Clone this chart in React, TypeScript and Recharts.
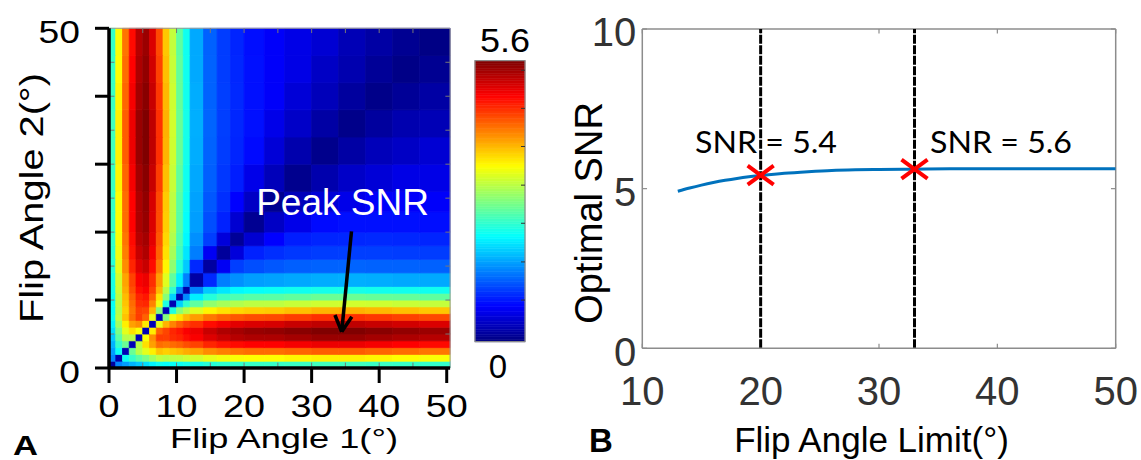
import React from 'react'
import { ComposedChart, XAxis, YAxis, ReferenceArea, ReferenceLine, Line, Scatter } from 'recharts'

const FONT = '"Liberation Sans", Arial, sans-serif'

// ---- panel A: SNR map, cell edges in degrees (finer near the axes) ----
const X_EDGES = [0, 1, 2, 3, 4, 5, 6, 7, 8, 9, 10, 11, 12, 14, 16, 18, 20, 23, 26, 30, 34, 38, 42, 46, 50.5]
const Y_EDGES = [0, 1, 2, 3, 4, 5, 6, 7, 8, 9, 10, 11, 12, 14, 16, 18, 20, 23, 26, 30, 34, 38, 42, 46, 50]

// rows go bottom (Flip Angle 2 = 0) to top, columns left to right
const SNR_MAP: number[][] = [
  [0.15, 1.43, 1.56, 1.68, 1.8, 1.92, 2.04, 2.16, 2.12, 2.14, 2.16, 2.21, 2.23, 2.31, 2.35, 2.38, 2.4, 2.4, 2.42, 2.45, 2.45, 2.42, 2.4, 2.38],
  [1.43, 0.25, 2.16, 2.39, 2.6, 2.77, 2.98, 3.15, 3.1, 3.13, 3.15, 3.22, 3.26, 3.37, 3.43, 3.47, 3.5, 3.5, 3.54, 3.57, 3.57, 3.54, 3.5, 3.47],
  [1.56, 2.16, 0.3, 2.68, 3.1, 3.35, 3.58, 3.83, 3.76, 3.82, 3.87, 3.95, 4.0, 4.13, 4.21, 4.26, 4.3, 4.3, 4.34, 4.39, 4.39, 4.34, 4.3, 4.26],
  [1.68, 2.39, 2.68, 0.3, 3.12, 3.67, 4.02, 4.3, 4.25, 4.31, 4.37, 4.47, 4.54, 4.7, 4.8, 4.85, 4.9, 4.9, 4.95, 5.0, 5.0, 4.95, 4.9, 4.85],
  [1.8, 2.6, 3.1, 3.12, 0.3, 3.47, 4.12, 4.57, 4.56, 4.66, 4.71, 4.83, 4.93, 5.08, 5.21, 5.3, 5.35, 5.35, 5.4, 5.46, 5.46, 5.4, 5.35, 5.3],
  [1.92, 2.77, 3.35, 3.67, 3.47, 0.3, 3.6, 4.36, 4.52, 4.69, 4.78, 4.92, 5.0, 5.2, 5.34, 5.4, 5.47, 5.5, 5.55, 5.6, 5.6, 5.55, 5.5, 5.45],
  [2.04, 2.98, 3.58, 4.02, 4.12, 3.6, 0.3, 3.38, 3.91, 4.18, 4.38, 4.55, 4.65, 4.84, 4.96, 5.05, 5.1, 5.12, 5.2, 5.25, 5.25, 5.2, 5.15, 5.1],
  [2.16, 3.15, 3.83, 4.3, 4.57, 4.36, 3.38, 0.3, 2.81, 3.41, 3.65, 3.89, 4.04, 4.24, 4.36, 4.42, 4.48, 4.5, 4.57, 4.64, 4.64, 4.6, 4.55, 4.5],
  [2.12, 3.1, 3.76, 4.25, 4.56, 4.52, 3.91, 2.81, 0.3, 2.27, 2.84, 3.1, 3.33, 3.55, 3.66, 3.72, 3.77, 3.79, 3.85, 3.91, 3.93, 3.89, 3.85, 3.81],
  [2.14, 3.13, 3.82, 4.31, 4.66, 4.69, 4.18, 3.41, 2.27, 0.28, 1.85, 2.35, 2.62, 2.89, 3.01, 3.07, 3.13, 3.14, 3.19, 3.23, 3.25, 3.23, 3.2, 3.17],
  [2.16, 3.15, 3.87, 4.37, 4.71, 4.78, 4.38, 3.65, 2.84, 1.85, 0.25, 1.46, 2.02, 2.29, 2.45, 2.52, 2.58, 2.59, 2.63, 2.68, 2.68, 2.66, 2.65, 2.62],
  [2.21, 3.22, 3.95, 4.47, 4.83, 4.92, 4.55, 3.89, 3.1, 2.35, 1.46, 0.22, 1.41, 1.81, 1.97, 2.07, 2.12, 2.15, 2.18, 2.21, 2.22, 2.2, 2.19, 2.18],
  [2.23, 3.26, 4.0, 4.54, 4.93, 5.0, 4.65, 4.04, 3.33, 2.62, 2.02, 1.41, 0.2, 0.92, 1.39, 1.49, 1.57, 1.59, 1.62, 1.65, 1.66, 1.65, 1.63, 1.63],
  [2.31, 3.37, 4.13, 4.7, 5.08, 5.2, 4.84, 4.24, 3.55, 2.89, 2.29, 1.81, 0.92, 0.18, 0.64, 1.04, 1.13, 1.18, 1.22, 1.24, 1.25, 1.24, 1.24, 1.23],
  [2.35, 3.43, 4.21, 4.8, 5.21, 5.34, 4.96, 4.36, 3.66, 3.01, 2.45, 1.97, 1.39, 0.64, 0.15, 0.5, 0.88, 0.95, 1.0, 1.03, 1.04, 1.04, 1.03, 1.03],
  [2.38, 3.47, 4.26, 4.85, 5.3, 5.4, 5.05, 4.42, 3.72, 3.07, 2.52, 2.07, 1.49, 1.04, 0.5, 0.13, 0.45, 0.7, 0.86, 0.9, 0.91, 0.92, 0.91, 0.9],
  [2.4, 3.5, 4.3, 4.9, 5.35, 5.47, 5.1, 4.48, 3.77, 3.13, 2.58, 2.12, 1.57, 1.13, 0.88, 0.45, 0.1, 0.38, 0.58, 0.75, 0.78, 0.78, 0.78, 0.77],
  [2.4, 3.5, 4.3, 4.9, 5.35, 5.5, 5.12, 4.5, 3.79, 3.14, 2.59, 2.15, 1.59, 1.18, 0.95, 0.7, 0.38, 0.09, 0.32, 0.48, 0.58, 0.67, 0.67, 0.67],
  [2.42, 3.54, 4.34, 4.95, 5.4, 5.55, 5.2, 4.57, 3.85, 3.19, 2.63, 2.18, 1.62, 1.22, 1.0, 0.86, 0.58, 0.32, 0.08, 0.25, 0.4, 0.48, 0.56, 0.57],
  [2.45, 3.57, 4.39, 5.0, 5.46, 5.6, 5.25, 4.64, 3.91, 3.23, 2.68, 2.21, 1.65, 1.24, 1.03, 0.9, 0.75, 0.48, 0.25, 0.07, 0.2, 0.32, 0.38, 0.46],
  [2.45, 3.57, 4.39, 5.0, 5.46, 5.6, 5.25, 4.64, 3.93, 3.25, 2.68, 2.22, 1.66, 1.25, 1.04, 0.91, 0.78, 0.58, 0.4, 0.2, 0.06, 0.17, 0.26, 0.3],
  [2.42, 3.54, 4.34, 4.95, 5.4, 5.55, 5.2, 4.6, 3.89, 3.23, 2.66, 2.2, 1.65, 1.24, 1.04, 0.92, 0.78, 0.67, 0.48, 0.32, 0.17, 0.05, 0.13, 0.2],
  [2.4, 3.5, 4.3, 4.9, 5.35, 5.5, 5.15, 4.55, 3.85, 3.2, 2.65, 2.19, 1.63, 1.24, 1.03, 0.91, 0.78, 0.67, 0.56, 0.38, 0.26, 0.13, 0.04, 0.1],
  [2.38, 3.47, 4.26, 4.85, 5.3, 5.45, 5.1, 4.5, 3.81, 3.17, 2.62, 2.18, 1.63, 1.23, 1.03, 0.9, 0.77, 0.67, 0.57, 0.46, 0.3, 0.2, 0.1, 0.03],
]

const A_TICKS = [0, 10, 20, 30, 40, 50]
const A_YLABELS = [0, 50]
const A_MINOR = [5, 10, 15, 20, 25, 30, 35, 40, 45]

// arrow pointing at the peak (deg, deg)
const ARROW_TAIL = { x: 35.9, y: 20.1 }
const ARROW_TIP = { x: 34.45, y: 5.34 }
const ARROW_HEAD = [{ x: 33.45, y: 7.8 }, { x: 35.95, y: 7.55 }]

// colorbar
const CBAR_MAX = 5.6
const CBAR_TICKS = [0.83, 1.59, 2.36, 3.12, 3.89, 4.65, 5.41]

// ---- panel B ----
const LIMIT = [13, 14, 15, 16, 17, 18, 19, 20, 22, 24, 26, 28, 30, 33, 36, 40, 45, 50]
const OPT_SNR = [4.92, 5.02, 5.11, 5.19, 5.26, 5.32, 5.37, 5.41, 5.48, 5.53, 5.57, 5.59, 5.6, 5.61, 5.62, 5.62, 5.62, 5.62]
const MARK_LIMIT = [20, 33]
const MARK_SNR = [5.42, 5.61]
const B_XTICKS = [10, 20, 30, 40, 50]
const B_YTICKS = [0, 5, 10]

function jet(v: number) {
  const t = Math.max(0, Math.min(1, v / CBAR_MAX))
  const f = (c: number) => Math.round(255 * Math.max(0, Math.min(1, 1.5 - Math.abs(4 * t - c))))
  return `rgb(${f(3)},${f(2)},${f(1)})`
}

const AXTick = ({ x, y, payload }: any) => (
  <g transform={`translate(${x},${y}) scale(1.22,1)`}>
    <text textAnchor="middle" dy="0.72em" fontSize={31} fontFamily={FONT} fill="#000">
      {payload.value}
    </text>
  </g>
)

const AYTick = ({ x, y, payload }: any) => {
  if (!A_YLABELS.includes(payload.value)) return <g />
  return (
    <g transform={`translate(${x},${y + 4}) scale(1.2,1)`}>
      <text textAnchor="end" dy="0.36em" fontSize={31} fontFamily={FONT} fill="#000">
        {payload.value}
      </text>
    </g>
  )
}

const BXTick = ({ x, y, payload }: any) => (
  <text x={x} y={y} textAnchor="middle" dy="0.72em" fontSize={40} fontFamily={FONT} fill="#333">
    {payload.value}
  </text>
)

const BYTick = ({ x, y, payload }: any) => (
  <text x={x} y={y + 3} textAnchor="end" dy="0.36em" fontSize={40} fontFamily={FONT} fill="#333">
    {payload.value}
  </text>
)

const RedCross = ({ cx, cy }: any) => (
  <g stroke="#ff0000" strokeWidth={4}>
    <line x1={cx - 13} y1={cy - 9.5} x2={cx + 13} y2={cy + 9.5} />
    <line x1={cx - 13} y1={cy + 9.5} x2={cx + 13} y2={cy - 9.5} />
  </g>
)

function HeatPanel() {
  return (
    <ComposedChart width={480} height={460} margin={{ top: 28.3, right: 29.9, bottom: 62, left: 49 }}>
      <XAxis
        type="number"
        dataKey="x"
        domain={[0, 50.5]}
        ticks={A_TICKS}
        allowDataOverflow
        height={30}
        axisLine={{ stroke: '#000', strokeWidth: 3.5 }}
        tickLine={{ stroke: '#000', strokeWidth: 3 }}
        tickSize={15}
        tickMargin={12}
        tick={AXTick}
        interval={0}
      />
      <YAxis
        type="number"
        dataKey="y"
        domain={[0, 50]}
        ticks={A_TICKS}
        allowDataOverflow
        width={60}
        axisLine={{ stroke: '#000', strokeWidth: 3.5 }}
        tickLine={{ stroke: '#000', strokeWidth: 3 }}
        tickSize={14}
        tickMargin={15}
        tick={AYTick}
        interval={0}
      />
      {SNR_MAP.map((row, r) =>
        row.map((v, c) => (
          <ReferenceArea
            key={`c${r}-${c}`}
            x1={X_EDGES[c]}
            x2={X_EDGES[c + 1]}
            y1={Y_EDGES[r]}
            y2={Y_EDGES[r + 1]}
            fill={jet(v)}
            fillOpacity={1}
            stroke={jet(v)}
            strokeWidth={0.8}
            ifOverflow="visible"
          />
        ))
      )}
      <ReferenceLine y={50} stroke="#9a9a9a" strokeWidth={1} />
      <ReferenceLine x={50.5} stroke="#9a9a9a" strokeWidth={1} />
      {A_MINOR.map((m) => (
        <ReferenceLine key={`mb${m}`} segment={[{ x: m, y: 0 }, { x: m, y: 0.8 }]} stroke="#777" strokeWidth={1} />
      ))}
      {A_MINOR.map((m) => (
        <ReferenceLine key={`mt${m}`} segment={[{ x: m, y: 50 }, { x: m, y: 49.3 }]} stroke="#777" strokeWidth={1} />
      ))}
      {A_MINOR.map((m) => (
        <ReferenceLine key={`ml${m}`} segment={[{ x: 0, y: m }, { x: 0.8, y: m }]} stroke="#777" strokeWidth={1} />
      ))}
      {A_MINOR.map((m) => (
        <ReferenceLine key={`mr${m}`} segment={[{ x: 50.5, y: m }, { x: 49.8, y: m }]} stroke="#777" strokeWidth={1} />
      ))}
      <ReferenceLine segment={[ARROW_TAIL, ARROW_TIP]} stroke="#000" strokeWidth={3.5} />
      {ARROW_HEAD.map((p, i) => (
        <ReferenceLine key={`ah${i}`} segment={[p, ARROW_TIP]} stroke="#000" strokeWidth={3.5} />
      ))}
    </ComposedChart>
  )
}

function ColorBar() {
  const steps = Array.from({ length: 112 }, (_, i) => i * 0.05)
  return (
    <ComposedChart width={90} height={460} margin={{ top: 60.7, right: 20, bottom: 118.3, left: 20 }}>
      <XAxis type="number" dataKey="x" domain={[0, 1]} hide allowDataOverflow />
      <YAxis type="number" dataKey="y" domain={[0, CBAR_MAX]} hide allowDataOverflow />
      {steps.map((s) => (
        <ReferenceArea
          key={`s${s}`}
          x1={0}
          x2={1}
          y1={s}
          y2={Math.min(CBAR_MAX, s + 0.05)}
          fill={jet(s + 0.025)}
          fillOpacity={1}
          stroke={jet(s + 0.025)}
          strokeWidth={0.6}
          ifOverflow="visible"
        />
      ))}
      <ReferenceArea x1={0} x2={1} y1={0} y2={CBAR_MAX} fill="none" fillOpacity={0} stroke="#8a8a8a" strokeWidth={1.2} ifOverflow="visible" />
      {CBAR_TICKS.map((t) => (
        <ReferenceLine key={`ct${t}`} segment={[{ x: 0.92, y: t }, { x: 1, y: t }]} stroke="#333" strokeWidth={1} />
      ))}
    </ComposedChart>
  )
}

function LimitPanel() {
  const lineData = LIMIT.map((x, i) => ({ x, y: OPT_SNR[i] }))
  const markData = MARK_LIMIT.map((x, i) => ({ x, y: MARK_SNR[i] }))
  return (
    <ComposedChart width={581} height={460} data={lineData} margin={{ top: 29, right: 25.3, bottom: 81.7, left: 22.3 }}>
      <XAxis
        type="number"
        dataKey="x"
        domain={[10, 50]}
        ticks={B_XTICKS}
        allowDataOverflow
        height={30}
        axisLine={{ stroke: '#8c8c8c', strokeWidth: 1.5 }}
        tickLine={false}
        tickSize={0}
        tickMargin={28}
        tick={BXTick}
        interval={0}
      />
      <YAxis
        type="number"
        dataKey="y"
        domain={[0, 10]}
        ticks={B_YTICKS}
        allowDataOverflow
        width={60}
        axisLine={{ stroke: '#8c8c8c', strokeWidth: 1.5 }}
        tickLine={false}
        tickSize={0}
        tickMargin={6}
        tick={BYTick}
        interval={0}
      />
      <ReferenceLine y={10} stroke="#8c8c8c" strokeWidth={1.5} />
      <ReferenceLine x={50} stroke="#8c8c8c" strokeWidth={1.5} />
      {B_XTICKS.map((t) => (
        <ReferenceLine key={`bb${t}`} segment={[{ x: t, y: 0 }, { x: t, y: 0.14 }]} stroke="#8c8c8c" strokeWidth={1.2} />
      ))}
      {B_XTICKS.map((t) => (
        <ReferenceLine key={`bt${t}`} segment={[{ x: t, y: 10 }, { x: t, y: 9.86 }]} stroke="#8c8c8c" strokeWidth={1.2} />
      ))}
      {B_YTICKS.map((t) => (
        <ReferenceLine key={`bl${t}`} segment={[{ x: 10, y: t }, { x: 10.4, y: t }]} stroke="#8c8c8c" strokeWidth={1.2} />
      ))}
      {B_YTICKS.map((t) => (
        <ReferenceLine key={`br${t}`} segment={[{ x: 50, y: t }, { x: 49.6, y: t }]} stroke="#8c8c8c" strokeWidth={1.2} />
      ))}
      {MARK_LIMIT.map((x) => (
        <ReferenceLine key={`v${x}`} x={x} stroke="#000" strokeWidth={3} strokeDasharray="9 1.5" />
      ))}
      <Line type="monotone" dataKey="y" stroke="#0072BD" strokeWidth={3} dot={false} isAnimationActive={false} />
      <Scatter data={markData} dataKey="y" shape={RedCross} isAnimationActive={false} />
    </ComposedChart>
  )
}

export default function App() {
  const stretch = { lengthAdjust: 'spacingAndGlyphs' as const }
  return (
    <div style={{ position: 'absolute', left: 0, top: 0, width: 1141, height: 460, background: '#fff', overflow: 'hidden' }}>
      <div style={{ position: 'absolute', left: 0, top: 0 }}>
        <HeatPanel />
      </div>
      <div style={{ position: 'absolute', left: 455, top: 0 }}>
        <ColorBar />
      </div>
      <div style={{ position: 'absolute', left: 560, top: 0 }}>
        <LimitPanel />
      </div>
      <svg width={1141} height={460} style={{ position: 'absolute', left: 0, top: 0, pointerEvents: 'none' }} fontFamily={FONT}>
        <text x={342.5} y={215} textAnchor="middle" fontSize={37} fill="#fff">Peak SNR</text>
        <text x={284} y={448} textAnchor="middle" fontSize={28} textLength={228} {...stretch}>Flip Angle 1(°)</text>
        <text transform="translate(31,198) rotate(-90)" textAnchor="middle" dy="0.36em" fontSize={34} textLength={250} {...stretch}>
          Flip Angle 2(°)
        </text>
        <text x={13} y={455} fontSize={28} fontWeight="bold" textLength={25} {...stretch}>A</text>
        <text x={505} y={51.7} textAnchor="middle" fontSize={33} textLength={50} {...stretch}>5.6</text>
        <text x={498} y={378} textAnchor="middle" fontSize={33}>0</text>
        <text transform="translate(588,213) rotate(-90)" textAnchor="middle" dy="0.36em" fontSize={38}>Optimal SNR</text>
        <text x={871.5} y={452} textAnchor="middle" fontSize={35}>Flip Angle Limit(°)</text>
        <text x={589} y={452} fontSize={33} fontWeight="bold">B</text>
        <text x={766} y={153} textAnchor="middle" fontSize={30} fontFamily="Lato, 'Open Sans', sans-serif" textLength={142} {...stretch}>
          SNR = 5.4
        </text>
        <text x={1001} y={153} textAnchor="middle" fontSize={30} fontFamily="Lato, 'Open Sans', sans-serif" textLength={142} {...stretch}>
          SNR = 5.6
        </text>
      </svg>
    </div>
  )
}
